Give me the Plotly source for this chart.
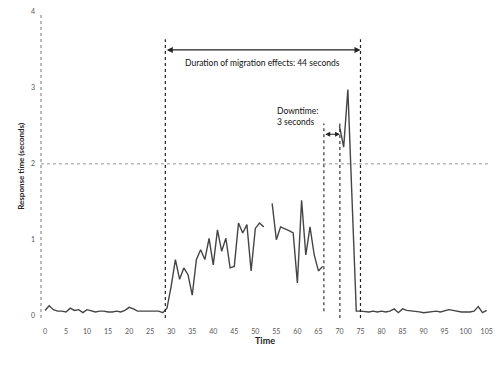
import plotly.graph_objects as go

# ---- data ----
time_s = list(range(0, 106))
response_s = [
    0.07, 0.13, 0.08, 0.06, 0.06, 0.05, 0.10, 0.07, 0.08, 0.04,   # 0-9
    0.08, 0.07, 0.05, 0.06, 0.06, 0.05, 0.05, 0.06, 0.05, 0.07,   # 10-19
    0.11, 0.09, 0.06, 0.06, 0.06, 0.06, 0.06, 0.06, 0.04, 0.10,   # 20-29
    0.39, 0.74, 0.48, 0.63, 0.54, 0.27, 0.74, 0.87, 0.74, 1.02,   # 30-39
    0.67, 1.13, 0.85, 1.02, 0.63, 0.65, 1.22, 1.09, 1.20, 0.59,   # 40-49
    1.15, 1.22, 1.17, None, 1.48, 1.00, 1.17, 1.15, 1.12, 1.09,   # 50-59
    0.43, 1.52, 0.80, 1.17, 0.80, 0.59, 0.65, None, None, None,   # 60-69
    2.50, 2.22, 2.98, 1.50, 0.06, 0.06, 0.05, 0.05, 0.06, 0.05,   # 70-79
    0.06, 0.05, 0.06, 0.09, 0.04, 0.09, 0.07, 0.06, 0.05, 0.05,   # 80-89
    0.04, 0.05, 0.05, 0.06, 0.05, 0.07, 0.08, 0.07, 0.06, 0.05,   # 90-99
    0.05, 0.05, 0.06, 0.12, 0.04, 0.07,                           # 100-105
]
x_ticks = list(range(0, 106, 5))
y_ticks = [0, 1, 2, 3, 4]

migration_start, migration_end = 28.6, 75.0
downtime_start, downtime_end = 66.3, 70.1
threshold = 2

FONT = "Lato"
DARK = "#222222"

fig = go.Figure()
fig.add_trace(go.Scatter(
    x=time_s, y=response_s, mode="lines",
    line=dict(color="#454545", width=1.4),
    connectgaps=False, hoverinfo="skip", showlegend=False,
))

shapes = []
# y axis dotted line
shapes.append(dict(type="line", xref="paper", yref="paper", x0=0, x1=0, y0=0, y1=1,
                   line=dict(color="#777", width=1, dash="dot")))
# threshold dotted gridline
shapes.append(dict(type="line", xref="paper", yref="y", x0=0, x1=0.995, y0=threshold, y1=threshold,
                   line=dict(color="#999", width=1, dash="dot")))
# migration bounds
for xv in (migration_start, migration_end):
    shapes.append(dict(type="line", xref="x", yref="y", x0=xv, x1=xv, y0=-0.03, y1=3.64,
                       line=dict(color=DARK, width=1.2, dash="dot")))
# downtime bounds
shapes.append(dict(type="line", xref="x", yref="y", x0=downtime_start, x1=downtime_start,
                   y0=0.06, y1=2.53, line=dict(color=DARK, width=1.1, dash="dot")))
shapes.append(dict(type="line", xref="x", yref="y", x0=downtime_end, x1=downtime_end,
                   y0=-0.03, y1=2.53, line=dict(color=DARK, width=1.1, dash="dot")))

annotations = [
    dict(x=migration_end, y=3.5, ax=migration_start, ay=3.5, xref="x", yref="y",
         axref="x", ayref="y", text="", showarrow=True, arrowhead=2, arrowside="end+start",
         arrowsize=1, arrowwidth=1.2, arrowcolor=DARK),
    dict(x=(migration_start + migration_end) / 2, y=3.33, xref="x", yref="y",
         text="Duration of migration effects: 44 seconds", showarrow=False,
         font=dict(family=FONT, size=8.5, color="#111")),
    dict(x=downtime_end, y=2.39, ax=downtime_start, ay=2.39, xref="x", yref="y",
         axref="x", ayref="y", text="", showarrow=True, arrowhead=2, arrowside="end+start",
         arrowsize=0.8, arrowwidth=1.2, arrowcolor=DARK),
    dict(x=54.6, y=2.62, xref="x", yref="y", xanchor="left", align="left",
         text="Downtime:<br>3 seconds", showarrow=False,
         font=dict(family=FONT, size=8.5, color="#111")),
    dict(x=-0.06, y=0.497, xref="paper", yref="paper", text="<b>Response time (seconds)</b>",
         textangle=-90, showarrow=False, font=dict(family=FONT, size=8, color="#222")),
    dict(x=0.496, y=-0.098, xref="paper", yref="paper", text="<b>Time</b>",
         showarrow=False, font=dict(family=FONT, size=9, color="#222")),
]

# the page body adds an 8px margin, so the figure is sized/offset to fit the window
fig.update_layout(
    width=485, height=349,
    margin=dict(l=33, r=0, t=4, b=39),
    paper_bgcolor="white", plot_bgcolor="white",
    shapes=shapes, annotations=annotations,
    xaxis=dict(range=[-0.95, 106.5], tickvals=x_ticks, ticktext=[str(v) for v in x_ticks],
               showgrid=False, zeroline=False, showline=False, ticks="", automargin=False,
               ticklabeloverflow="allow",
               tickfont=dict(family=FONT, size=7, color="#555"), ticklabelstandoff=8),
    yaxis=dict(range=[-0.03, 4.0], tickvals=y_ticks, ticktext=[str(v) for v in y_ticks],
               showgrid=False, zeroline=False, showline=False, ticks="", automargin=False,
               ticklabeloverflow="allow",
               tickfont=dict(family=FONT, size=7, color="#555"), ticklabelstandoff=5),
)

fig.write_html("out.html")
